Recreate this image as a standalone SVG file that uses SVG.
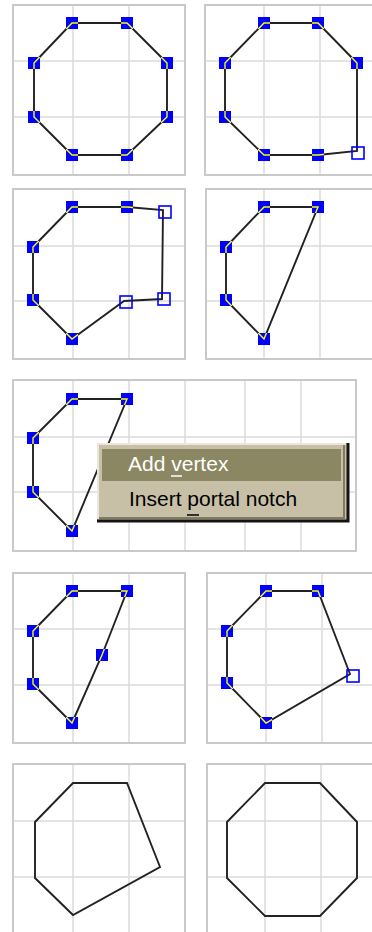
<svg xmlns="http://www.w3.org/2000/svg" xmlns:xlink="http://www.w3.org/1999/xlink" width="372" height="932" viewBox="0 0 372 932">
<style>
.frame{fill:#fff;stroke:#c9c9c9;stroke-width:2}
.grid{stroke:#dcdcdc;stroke-width:1.5;fill:none}
.poly{fill:none;stroke:#222;stroke-width:1.9;stroke-linejoin:miter}
.yl{fill:none;stroke:#ffff00;stroke-width:1.4}
.v{fill:#0000ff}
.h{fill:none;stroke:#0000ff;stroke-width:1.6}
.mt{font-family:"Liberation Sans",Arial,sans-serif;font-size:21px}
</style>
<defs>
<rect id="sq" width="12" height="12" x="-6" y="-6"/>
<clipPath id="c1"><use xlink:href="#sq" x="72" y="23"/><use xlink:href="#sq" x="127" y="23"/><use xlink:href="#sq" x="167" y="63"/><use xlink:href="#sq" x="167" y="117"/><use xlink:href="#sq" x="127" y="155"/><use xlink:href="#sq" x="72" y="155"/><use xlink:href="#sq" x="34" y="117"/><use xlink:href="#sq" x="34" y="63"/></clipPath>
<clipPath id="c2"><use xlink:href="#sq" x="264" y="23"/><use xlink:href="#sq" x="318" y="23"/><use xlink:href="#sq" x="357" y="63"/><use xlink:href="#sq" x="318" y="155"/><use xlink:href="#sq" x="264" y="155"/><use xlink:href="#sq" x="225" y="117"/><use xlink:href="#sq" x="225" y="63"/></clipPath>
<clipPath id="c3"><use xlink:href="#sq" x="72" y="207"/><use xlink:href="#sq" x="127" y="207"/><use xlink:href="#sq" x="72" y="339"/><use xlink:href="#sq" x="33" y="300"/><use xlink:href="#sq" x="33" y="247"/></clipPath>
<clipPath id="c4"><use xlink:href="#sq" x="264" y="207"/><use xlink:href="#sq" x="318" y="207"/><use xlink:href="#sq" x="264" y="339"/><use xlink:href="#sq" x="226" y="300"/><use xlink:href="#sq" x="226" y="247"/></clipPath>
<clipPath id="c5"><use xlink:href="#sq" x="72" y="399"/><use xlink:href="#sq" x="127" y="399"/><use xlink:href="#sq" x="72" y="531"/><use xlink:href="#sq" x="33" y="492"/><use xlink:href="#sq" x="33" y="438"/></clipPath>
<clipPath id="c6"><use xlink:href="#sq" x="72" y="591"/><use xlink:href="#sq" x="127" y="591"/><use xlink:href="#sq" x="102" y="655"/><use xlink:href="#sq" x="72" y="723"/><use xlink:href="#sq" x="33" y="684"/><use xlink:href="#sq" x="33" y="631"/></clipPath>
<clipPath id="c7"><use xlink:href="#sq" x="266" y="591"/><use xlink:href="#sq" x="318" y="591"/><use xlink:href="#sq" x="266" y="723"/><use xlink:href="#sq" x="227" y="683"/><use xlink:href="#sq" x="227" y="631"/></clipPath>
</defs>
<rect width="372" height="932" fill="#fff"/>

<g id="panel1">
<rect class="frame" x="13" y="5" width="172" height="170"/>
<path class="grid" d="M73 6V174M129 6V174M14 61H184M14 117H184"/>
<polygon class="poly" points="72,23 127,23 167,63 167,117 127,155 72,155 34,117 34,63"/>
<g class="v"><use xlink:href="#sq" x="72" y="23"/><use xlink:href="#sq" x="127" y="23"/><use xlink:href="#sq" x="167" y="63"/><use xlink:href="#sq" x="167" y="117"/><use xlink:href="#sq" x="127" y="155"/><use xlink:href="#sq" x="72" y="155"/><use xlink:href="#sq" x="34" y="117"/><use xlink:href="#sq" x="34" y="63"/></g>
<polygon class="yl" clip-path="url(#c1)" points="72,23 127,23 167,63 167,117 127,155 72,155 34,117 34,63"/>
</g>

<g id="panel2">
<rect class="frame" x="205" y="5" width="172" height="170"/>
<path class="grid" d="M264 6V174M320 6V174M206 61H372M206 117H372"/>
<polygon class="poly" points="264,23 318,23 357,63 357,151 318,155 264,155 225,117 225,63"/>
<g class="v"><use xlink:href="#sq" x="264" y="23"/><use xlink:href="#sq" x="318" y="23"/><use xlink:href="#sq" x="357" y="63"/><use xlink:href="#sq" x="318" y="155"/><use xlink:href="#sq" x="264" y="155"/><use xlink:href="#sq" x="225" y="117"/><use xlink:href="#sq" x="225" y="63"/></g>
<polygon class="yl" clip-path="url(#c2)" points="264,23 318,23 357,63 357,151 318,155 264,155 225,117 225,63"/>
<use xlink:href="#sq" class="h" x="358" y="153"/>
</g>

<g id="panel3">
<rect class="frame" x="13" y="189" width="172" height="170"/>
<path class="grid" d="M73 190V358M129 190V358M14 246H184M14 301H184"/>
<polygon class="poly" points="72,207 127,207 163,210 162,299 124,301 72,339 33,300 33,247"/>
<g class="v"><use xlink:href="#sq" x="72" y="207"/><use xlink:href="#sq" x="127" y="207"/><use xlink:href="#sq" x="72" y="339"/><use xlink:href="#sq" x="33" y="300"/><use xlink:href="#sq" x="33" y="247"/></g>
<polygon class="yl" clip-path="url(#c3)" points="72,207 127,207 163,210 162,299 124,301 72,339 33,300 33,247"/>
<use xlink:href="#sq" class="h" x="165" y="212"/>
<use xlink:href="#sq" class="h" x="164" y="299"/>
<use xlink:href="#sq" class="h" x="126" y="302"/>
</g>

<g id="panel4">
<rect class="frame" x="206" y="189" width="172" height="170"/>
<path class="grid" d="M264 190V358M320 190V358M207 246H372M207 301H372"/>
<polygon class="poly" points="264,207 318,207 264,339 226,300 226,247"/>
<g class="v"><use xlink:href="#sq" x="264" y="207"/><use xlink:href="#sq" x="318" y="207"/><use xlink:href="#sq" x="264" y="339"/><use xlink:href="#sq" x="226" y="300"/><use xlink:href="#sq" x="226" y="247"/></g>
<polygon class="yl" clip-path="url(#c4)" points="264,207 318,207 264,339 226,300 226,247"/>
</g>

<g id="panel5">
<rect class="frame" x="13" y="380" width="343" height="171"/>
<path class="grid" d="M73 381V550M129 381V550M185 381V550M245 381V550M301 381V550M14 437H355M14 492H355"/>
<polygon class="poly" points="72,399 127,399 72,531 33,492 33,438"/>
<g class="v"><use xlink:href="#sq" x="72" y="399"/><use xlink:href="#sq" x="127" y="399"/><use xlink:href="#sq" x="72" y="531"/><use xlink:href="#sq" x="33" y="492"/><use xlink:href="#sq" x="33" y="438"/></g>
<polygon class="yl" clip-path="url(#c5)" points="72,399 127,399 72,531 33,492 33,438"/>
</g>

<g id="menu">
<rect x="97" y="443" width="250" height="77" fill="#c7c0a7"/>
<path d="M98 519V444H346" fill="none" stroke="#ebe7dc" stroke-width="2"/>
<path d="M99 518H344V445" fill="none" stroke="#807b65" stroke-width="2"/>
<path d="M97 521H348V443" fill="none" stroke="#141414" stroke-width="3"/>
<rect x="102" y="449" width="239" height="32" fill="#8b8762"/>
<text class="mt" x="128" y="471" fill="#ffffff">Add vertex</text>
<line x1="171" y1="476" x2="182" y2="476" stroke="#ffffff" stroke-width="1.5"/>
<text class="mt" x="129" y="506" fill="#000000">Insert portal notch</text>
<line x1="187" y1="515" x2="199" y2="515" stroke="#000000" stroke-width="1.5"/>
</g>

<g id="panel6">
<rect class="frame" x="13" y="573" width="172" height="170"/>
<path class="grid" d="M73 574V742M129 574V742M14 629H184M14 685H184"/>
<polygon class="poly" points="72,591 127,591 102,655 72,723 33,684 33,631"/>
<g class="v"><use xlink:href="#sq" x="72" y="591"/><use xlink:href="#sq" x="127" y="591"/><use xlink:href="#sq" x="102" y="655"/><use xlink:href="#sq" x="72" y="723"/><use xlink:href="#sq" x="33" y="684"/><use xlink:href="#sq" x="33" y="631"/></g>
<polygon class="yl" clip-path="url(#c6)" points="72,591 127,591 102,655 72,723 33,684 33,631"/>
</g>

<g id="panel7">
<rect class="frame" x="207" y="573" width="172" height="170"/>
<path class="grid" d="M266 574V742M322 574V742M208 629H372M208 685H372"/>
<polygon class="poly" points="266,591 318,591 350,674 266,723 227,683 227,631"/>
<g class="v"><use xlink:href="#sq" x="266" y="591"/><use xlink:href="#sq" x="318" y="591"/><use xlink:href="#sq" x="266" y="723"/><use xlink:href="#sq" x="227" y="683"/><use xlink:href="#sq" x="227" y="631"/></g>
<polygon class="yl" clip-path="url(#c7)" points="266,591 318,591 350,674 266,723 227,683 227,631"/>
<use xlink:href="#sq" class="h" x="353" y="676"/>
</g>

<g id="panel8">
<rect class="frame" x="13" y="764" width="172" height="180"/>
<path class="grid" d="M73 765V932M129 765V932M14 821H184M14 877H184"/>
<polygon class="poly" points="73,783 127,783 160,867 73,915 35,878 35,822"/>
</g>

<g id="panel9">
<rect class="frame" x="207" y="764" width="172" height="180"/>
<path class="grid" d="M265 765V932M321 765V932M208 821H372M208 877H372"/>
<polygon class="poly" points="265,783 320,783 357,822 357,878 320,916 265,916 227,878 227,822"/>
</g>
</svg>
